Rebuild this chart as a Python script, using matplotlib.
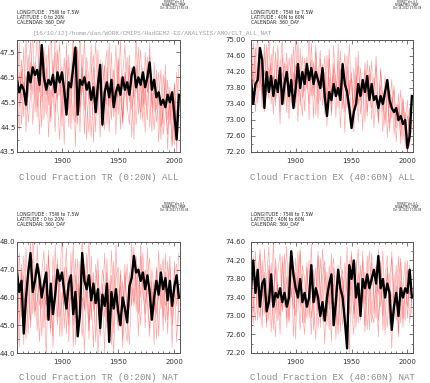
import matplotlib
matplotlib.use("Agg")
import matplotlib.pyplot as plt
import numpy as np
from matplotlib.ticker import MultipleLocator, FormatStrFormatter

# ensemble mean, every 2nd year 1860-2004
tr_all_mean = [
    46.4, 45.9, 46.2, 46.0, 45.4, 46.7, 46.3, 46.9, 46.6, 46.8,
    46.2, 47.8, 46.5, 46.0, 46.4, 46.2, 46.6, 45.9, 46.7, 46.3,
    46.7, 46.0, 45.0, 46.3, 46.1, 46.9, 47.7, 45.0, 46.4, 46.2,
    46.5, 46.0, 46.3, 45.6, 46.1, 45.1, 46.2, 47.0, 44.6, 45.9,
    46.3, 45.7, 46.4, 45.3, 45.9, 46.2, 45.8, 46.5, 46.0, 46.3,
    45.8, 46.6, 46.9, 46.1, 46.5, 46.2, 46.7, 46.1, 46.5, 47.1,
    46.0, 46.4, 45.7, 45.9, 45.4, 45.6, 45.3, 45.8, 45.5, 45.9,
    45.0, 44.0, 45.8,
]
ex_all_mean = [
    74.0, 73.4, 73.9, 74.0, 74.8, 74.5, 73.3, 74.2, 73.7, 74.1,
    73.6, 74.0, 73.7, 74.3, 73.4, 73.9, 74.2, 73.6, 74.0, 73.3,
    73.8, 74.4, 73.8, 74.2, 73.9, 74.4, 74.0, 74.3, 73.9, 74.2,
    74.0, 73.8, 74.3, 73.6, 73.1, 73.7, 73.5, 73.9, 73.6, 73.8,
    73.5, 74.4, 73.9, 73.7, 73.3, 72.8, 73.2, 73.4, 73.9, 73.6,
    74.0, 73.7, 74.1, 73.5, 73.9, 73.5, 73.6, 73.3, 73.6, 73.4,
    73.7, 74.0, 73.5, 73.3, 73.2, 73.3, 73.0, 73.1, 72.9, 73.0,
    72.3, 72.6, 73.6,
]
tr_nat_mean = [
    46.9, 46.2, 46.6, 44.7, 46.0, 46.9, 47.6, 46.2, 46.6, 47.2,
    46.7, 46.0, 46.5, 46.9, 45.2, 46.5, 45.4, 46.1, 47.0, 46.6,
    46.9, 46.2, 45.6, 46.5, 46.8, 45.4, 46.2, 44.6, 45.4, 47.6,
    46.6, 46.3, 46.8, 45.9, 46.5, 45.8, 46.3, 44.9, 46.1, 45.7,
    46.5, 44.4, 46.2, 45.6, 46.3, 45.5, 45.0, 46.0, 45.6, 45.1,
    46.4, 46.7, 47.5, 46.9, 47.0, 46.6, 46.9, 46.3, 46.8, 46.2,
    45.2, 46.0, 46.6, 46.1, 46.9, 46.3, 46.7, 45.9, 46.6, 45.7,
    46.4, 46.8, 46.0,
]
ex_nat_mean = [
    73.6, 74.2, 73.5, 74.0, 73.2, 73.7, 73.8, 73.1, 73.3, 73.9,
    73.2, 73.5, 73.4, 73.6, 73.3, 73.5, 73.2, 73.4, 74.4, 73.9,
    73.6, 73.4, 73.8, 73.3, 73.5, 73.2, 73.4, 74.1, 73.3, 73.6,
    73.4, 73.0, 73.3, 72.9, 73.4, 73.7, 73.9, 72.8, 73.3, 74.0,
    73.6, 73.4, 72.9, 72.3, 74.1, 73.8, 74.2, 73.4, 73.7, 73.0,
    73.8, 73.6, 73.9, 73.6, 73.8, 74.0, 73.7, 74.3, 73.6, 73.8,
    73.4, 73.7, 73.5, 72.7, 73.2, 73.5, 73.0, 73.6, 73.4, 73.6,
    73.5, 74.0, 73.4,
]

# individual members (red)
tr_all_members = [
    [47.5, 45.3, 46.8, 44.9, 48.2, 45.7, 47.1, 44.6, 46.5, 48.4, 45.9, 47.3, 44.8, 46.9, 45.4, 48.6, 46.1, 44.3, 47.6, 45.8, 46.7, 43.8, 47.9, 45.2, 46.4, 48.3, 44.7, 46.2, 45.1, 47.4, 44.2, 46.8, 45.6, 47.8, 43.9, 46.3, 45.0, 47.2, 45.8, 44.4, 46.9, 45.3, 47.5, 44.9, 46.1, 45.7, 48.1, 44.6, 46.6, 45.2, 47.0, 44.1, 46.4, 45.9, 47.7, 44.8, 46.2, 45.4, 47.3, 44.5, 46.0, 45.1, 46.8, 43.9, 45.7, 44.6, 46.5, 43.6, 45.9, 44.8, 46.3, 43.5, 45.4],
    [45.8, 47.9, 44.6, 46.3, 45.2, 47.4, 46.0, 48.5, 45.1, 46.6, 44.2, 47.0, 46.3, 45.0, 47.8, 44.7, 46.2, 47.5, 45.4, 44.0, 46.9, 45.6, 47.2, 44.5, 45.9, 46.8, 43.7, 47.6, 45.3, 46.1, 48.0, 45.5, 44.3, 46.7, 47.4, 45.2, 46.5, 44.1, 47.1, 46.0, 45.4, 47.9, 44.8, 46.4, 45.1, 47.3, 44.4, 46.6, 47.8, 45.3, 44.6, 46.9, 45.7, 48.2, 45.0, 46.3, 44.7, 47.5, 45.9, 46.4, 44.3, 47.1, 45.2, 46.0, 44.0, 46.6, 45.5, 44.2, 46.1, 43.8, 45.6, 44.5, 46.9],
    [46.1, 44.4, 47.2, 45.9, 46.6, 44.7, 45.8, 47.0, 46.3, 44.9, 48.1, 45.5, 46.8, 47.4, 44.1, 46.0, 45.7, 48.7, 45.6, 46.4, 44.9, 47.3, 45.8, 46.9, 44.4, 47.7, 45.5, 44.6, 48.4, 45.9, 46.6, 44.0, 46.3, 45.4, 46.9, 44.3, 47.6, 45.8, 46.2, 47.0, 44.6, 46.1, 45.5, 46.8, 44.2, 47.2, 45.6, 44.9, 46.7, 45.8, 47.4, 45.2, 46.0, 44.6, 46.5, 47.6, 45.3, 46.1, 44.8, 47.9, 45.6, 44.4, 45.8, 46.7, 44.5, 45.2, 47.0, 44.8, 45.5, 43.7, 46.2, 45.0, 44.3],
    [44.9, 46.7, 45.6, 47.7, 44.3, 46.2, 48.0, 45.8, 47.1, 45.3, 46.5, 44.5, 47.7, 45.8, 46.3, 44.9, 47.2, 45.1, 46.6, 47.9, 44.5, 46.1, 45.2, 47.4, 46.0, 44.8, 46.5, 47.7, 44.3, 46.9, 45.2, 47.3, 46.4, 44.1, 46.0, 47.9, 45.6, 46.3, 44.5, 46.8, 47.6, 44.3, 46.2, 45.9, 47.8, 45.0, 46.5, 44.7, 46.1, 47.3, 45.5, 46.6, 44.0, 47.0, 45.7, 45.1, 46.9, 44.3, 46.2, 47.4, 45.3, 46.0, 44.7, 45.5, 46.8, 44.2, 45.0, 46.4, 44.6, 45.9, 43.8, 46.7, 45.2],
]
ex_all_members = [
    [74.62, 73.48, 74.35, 75.10, 73.72, 74.56, 73.21, 74.88, 73.95, 74.42, 73.15, 74.70, 73.66, 74.22, 75.05, 73.40, 74.12, 73.02, 74.64, 73.86, 74.38, 72.95, 74.80, 73.55, 74.28, 73.78, 75.12, 73.60, 74.46, 73.12, 74.02, 74.74, 73.36, 73.98, 72.85, 74.55, 73.70, 74.30, 73.05, 74.90, 73.48, 74.10, 72.68, 74.34, 73.62, 74.05, 73.25, 74.58, 73.40, 73.92, 72.74, 74.44, 73.58, 74.16, 73.02, 73.80, 74.38, 72.90, 73.68, 73.22, 74.10, 72.56, 73.60, 73.04, 73.86, 72.45, 73.38, 72.82, 73.55, 72.30, 73.12, 72.70, 73.42],
    [73.70, 74.40, 73.20, 74.05, 74.70, 73.55, 74.25, 73.85, 75.20, 73.40, 74.10, 73.75, 74.50, 72.90, 74.20, 73.95, 74.68, 73.45, 74.02, 74.82, 73.30, 74.40, 73.65, 73.10, 74.55, 74.05, 73.40, 74.92, 73.80, 74.35, 73.05, 74.52, 73.85, 74.20, 73.45, 74.78, 73.10, 74.12, 73.62, 74.48, 72.80, 73.95, 74.66, 73.30, 74.00, 72.88, 74.30, 73.52, 74.72, 73.15, 73.85, 74.25, 73.20, 73.78, 74.48, 72.80, 73.60, 73.10, 74.22, 73.40, 72.86, 73.70, 73.30, 74.02, 72.62, 73.40, 72.95, 73.75, 72.50, 73.20, 72.10, 73.05, 72.65],
    [74.35, 73.90, 74.82, 73.42, 74.18, 73.66, 74.90, 74.12, 73.52, 74.65, 74.00, 73.35, 74.86, 74.10, 73.60, 74.44, 73.18, 74.55, 74.10, 73.70, 75.02, 73.58, 74.12, 74.60, 73.22, 74.36, 73.92, 74.50, 73.05, 74.70, 73.90, 73.48, 74.40, 73.15, 74.62, 73.88, 73.40, 74.85, 73.70, 73.30, 74.28, 73.82, 73.20, 74.60, 73.66, 74.20, 72.70, 73.90, 74.36, 73.48, 74.02, 72.95, 74.50, 73.55, 73.30, 74.06, 73.66, 72.98, 74.30, 73.50, 73.00, 73.90, 72.70, 73.58, 73.12, 72.80, 73.66, 72.40, 73.32, 72.88, 73.50, 72.34, 73.00],
    [73.55, 74.95, 74.10, 73.80, 74.48, 73.30, 74.70, 73.60, 74.30, 73.95, 74.85, 73.50, 74.06, 73.20, 74.62, 73.75, 74.40, 73.88, 73.40, 74.20, 73.62, 74.96, 73.35, 74.18, 73.72, 74.58, 73.00, 74.30, 73.60, 74.88, 73.40, 74.14, 73.80, 74.60, 73.52, 74.06, 73.20, 74.42, 73.95, 73.60, 74.72, 73.28, 74.02, 73.50, 74.90, 73.70, 73.40, 74.12, 72.95, 74.30, 73.62, 73.95, 73.10, 74.36, 73.70, 73.45, 74.60, 73.25, 73.88, 72.70, 73.68, 73.95, 72.90, 73.40, 73.76, 72.98, 73.20, 72.60, 73.52, 73.00, 72.48, 73.30, 72.85],
]
tr_nat_members = [
    [47.4, 45.1, 46.9, 44.3, 47.8, 46.0, 45.2, 48.3, 46.4, 44.8, 47.1, 45.6, 46.7, 43.8, 47.5, 46.1, 44.6, 47.9, 45.3, 46.6, 48.2, 44.9, 46.3, 45.0, 47.6, 44.2, 46.8, 45.5, 47.3, 45.9, 44.1, 46.5, 48.1, 45.2, 46.9, 44.4, 47.0, 45.8, 46.2, 44.0, 47.4, 45.5, 46.8, 44.7, 47.9, 45.9, 46.4, 44.5, 47.2, 45.3, 46.0, 48.0, 45.7, 46.9, 44.6, 47.5, 46.2, 45.4, 47.8, 45.6, 46.6, 44.3, 47.1, 45.9, 46.8, 44.8, 47.6, 45.2, 46.4, 44.2, 47.3, 45.7, 46.5],
    [45.6, 47.6, 45.9, 46.8, 44.5, 46.3, 48.1, 45.4, 47.0, 46.1, 44.4, 46.9, 47.7, 45.2, 46.0, 44.7, 46.8, 45.9, 47.4, 44.6, 46.2, 45.7, 47.1, 45.3, 46.4, 47.9, 44.3, 46.5, 45.6, 44.6, 47.2, 46.0, 44.8, 47.5, 45.5, 46.2, 43.9, 45.8, 47.0, 46.4, 45.1, 46.6, 44.3, 47.3, 45.6, 45.0, 46.8, 44.2, 46.1, 47.2, 45.6, 46.7, 47.8, 45.5, 47.1, 46.0, 47.6, 45.8, 46.3, 44.6, 47.0, 46.2, 45.4, 47.7, 45.6, 46.3, 45.1, 47.3, 46.0, 45.3, 46.9, 47.2, 45.1],
    [46.3, 44.2, 47.2, 45.8, 46.1, 47.3, 44.9, 46.6, 45.3, 47.9, 45.7, 46.4, 44.9, 47.2, 45.9, 46.5, 44.2, 46.4, 47.2, 45.3, 45.8, 47.1, 44.7, 46.8, 45.9, 46.2, 47.4, 44.8, 46.3, 48.2, 45.5, 46.8, 45.1, 46.0, 44.2, 47.2, 46.1, 44.6, 45.9, 47.6, 44.9, 46.3, 45.6, 44.0, 46.7, 47.1, 45.2, 46.6, 45.0, 44.4, 46.9, 45.7, 47.3, 46.6, 45.4, 47.9, 46.5, 47.0, 45.7, 44.9, 46.3, 45.5, 47.0, 44.6, 46.6, 47.4, 45.7, 46.0, 47.5, 45.0, 45.8, 46.2, 47.6],
    [44.8, 46.5, 45.3, 47.5, 46.2, 44.7, 46.9, 47.4, 45.5, 45.9, 46.8, 44.6, 46.1, 45.7, 47.7, 44.9, 47.5, 46.2, 45.0, 46.8, 44.6, 46.5, 47.8, 44.4, 46.7, 45.0, 46.1, 47.4, 45.2, 46.0, 45.6, 47.6, 44.5, 46.8, 45.7, 46.4, 47.4, 44.7, 46.5, 45.3, 46.9, 44.6, 47.7, 45.9, 46.2, 44.8, 47.0, 45.6, 46.9, 45.4, 44.3, 46.4, 45.8, 47.5, 46.4, 45.0, 46.9, 44.9, 46.9, 47.4, 45.3, 46.6, 44.5, 46.4, 47.2, 45.3, 46.9, 44.7, 47.1, 45.6, 46.6, 44.4, 46.1],
]
ex_nat_members = [
    [74.20, 73.10, 73.85, 72.90, 74.45, 73.40, 73.95, 72.75, 74.10, 73.30, 74.60, 73.05, 73.70, 72.60, 74.30, 73.55, 72.95, 74.15, 73.40, 73.80, 72.50, 74.40, 73.20, 73.90, 72.85, 74.05, 73.35, 74.55, 72.70, 73.65, 73.10, 74.25, 73.50, 72.40, 73.95, 73.15, 74.35, 72.80, 73.60, 74.10, 72.65, 73.85, 73.30, 74.50, 72.20, 73.75, 73.05, 74.20, 73.45, 72.90, 74.40, 73.25, 73.85, 72.70, 74.15, 73.50, 72.95, 74.45, 73.20, 73.70, 72.60, 74.05, 73.40, 72.30, 73.90, 73.15, 74.30, 72.85, 73.60, 74.20, 72.95, 73.80, 73.30],
    [72.95, 74.30, 73.55, 74.00, 73.20, 72.75, 74.45, 73.60, 72.90, 74.15, 73.35, 72.55, 73.95, 74.35, 73.10, 73.70, 74.50, 72.85, 73.60, 73.15, 74.25, 73.50, 72.70, 74.10, 73.80, 72.95, 73.45, 72.60, 74.00, 73.30, 74.40, 72.75, 73.85, 74.20, 73.00, 73.55, 72.45, 74.05, 73.30, 72.80, 74.30, 73.50, 72.95, 73.80, 74.20, 73.15, 72.60, 73.95, 74.45, 73.10, 73.60, 72.80, 74.30, 73.40, 72.85, 73.75, 74.10, 72.90, 73.55, 74.40, 73.20, 72.75, 73.85, 74.25, 73.05, 73.65, 72.55, 74.15, 73.35, 72.90, 74.00, 73.45, 73.80],
    [73.60, 72.80, 74.40, 73.35, 72.95, 74.20, 73.05, 73.80, 74.50, 72.65, 73.55, 74.05, 72.90, 73.50, 73.10, 74.35, 72.75, 73.65, 74.10, 72.55, 73.95, 73.30, 74.45, 72.85, 73.40, 74.15, 72.95, 73.75, 73.20, 72.50, 74.30, 73.60, 72.90, 74.05, 73.45, 72.70, 73.90, 74.25, 73.15, 72.60, 73.70, 74.00, 73.00, 72.40, 73.80, 74.40, 72.95, 73.50, 72.85, 74.10, 73.30, 73.95, 72.70, 73.60, 74.35, 73.05, 73.70, 72.55, 74.15, 73.00, 73.85, 74.30, 72.80, 73.50, 73.20, 74.10, 72.65, 73.75, 72.95, 73.55, 74.20, 72.85, 73.40],
    [74.05, 73.45, 72.90, 73.95, 74.35, 73.00, 73.60, 72.85, 74.00, 73.75, 72.70, 74.25, 73.40, 73.00, 74.15, 73.20, 73.85, 72.90, 74.30, 73.55, 73.00, 73.85, 74.40, 73.10, 72.60, 73.70, 74.20, 72.95, 73.55, 74.05, 72.75, 73.35, 74.45, 73.60, 72.80, 74.10, 73.25, 73.70, 72.50, 74.00, 73.40, 72.80, 74.15, 73.55, 73.05, 74.30, 73.70, 72.75, 73.95, 73.40, 74.20, 72.65, 73.80, 74.40, 73.05, 72.85, 73.90, 73.45, 74.20, 72.70, 73.55, 73.90, 72.95, 74.40, 73.35, 72.90, 73.80, 74.25, 72.75, 73.60, 73.20, 74.10, 73.05],
]

titles = [
    "Cloud Fraction TR (0:20N) ALL",
    "Cloud Fraction EX (40:60N) ALL",
    "Cloud Fraction TR (0:20N) NAT",
    "Cloud Fraction EX (40:60N) NAT",
]
latitudes = ["0 to 20N", "40N to 60N", "0 to 20N", "40N to 60N"]
y_ranges = [(43.5, 48.0), (72.2, 75.0), (44.0, 48.0), (72.2, 74.6)]
y_steps = [(1.0, 0.5, "%.1f"), (0.4, 0.2, "%.2f"),
           (1.0, 0.5, "%.1f"), (0.4, 0.2, "%.2f")]
path_label = "[16/10/12]/home/dan/WORK/CMIP5/HadGEM2-ES/ANALYSIS/AMO/CLT_ALL_NAT"

W, H = 430, 383


def px_axes(fig, left, top, right, bottom):
    return fig.add_axes([left / W, 1 - bottom / H,
                         (right - left) / W, (bottom - top) / H])


def draw_panel(fig, box, mean, members, title, lat, yr, ys, label_pad):
    left, top, right, bottom = box
    ax = px_axes(fig, left, top, right, bottom)

    for m in members:
        ax.plot(np.linspace(1860, 2004, len(m)), m,
                color="#ff2020", lw=0.45, alpha=0.42)
    ax.plot(np.linspace(1860, 2004, len(mean)), mean,
            color="black", lw=1.7)

    ax.set_xlim(1860, 2005)
    ax.set_ylim(*yr)
    ax.set_xticks([1900, 1950, 2000])
    ax.xaxis.set_minor_locator(MultipleLocator(5))
    major, minor, fmt = ys
    ax.yaxis.set_major_locator(MultipleLocator(major))
    ax.yaxis.set_minor_locator(MultipleLocator(minor))
    ax.yaxis.set_major_formatter(FormatStrFormatter(fmt))
    if yr[0] % major:
        ax.set_yticks(np.arange(yr[0], yr[1] + 0.01, major))

    ax.tick_params(which="both", direction="in", top=True, right=True,
                   width=0.5, colors="#444444", labelsize=5.0,
                   labelcolor="#333333")
    ax.tick_params(which="major", length=3)
    ax.tick_params(which="minor", length=1.5)
    ax.tick_params(axis="x", pad=4)
    ax.tick_params(axis="y", pad=label_pad)
    for s in ax.spines.values():
        s.set_linewidth(0.7)
        s.set_color("#555555")

    cx = (left + right) / 2
    fig.text(cx / W, 1 - (bottom + 25) / H, title, ha="center", va="center",
             family="Liberation Mono", fontsize=6.6, color="#8c8c8c")

    hdr = ["LONGITUDE : 75W to 7.5W", "LATITUDE : " + lat, "CALENDAR: 360_DAY"]
    for i, line in enumerate(hdr):
        fig.text(left / W, 1 - (top - 27 + 4.6 * i) / H, line,
                 ha="left", va="center", fontsize=3.3, color="#222222")
    ferret = ["FERRET Ver. 6.1", "NOAA/PMEL TMAP", "Oct 16 2012 17:55:08"]
    for i, line in enumerate(ferret):
        fig.text((right - 6) / W, 1 - (top - 38 + 2.9 * i) / H, line,
                 ha="center", va="center", fontsize=1.9, color="#222222")
    return ax


def main():
    fig = plt.figure(figsize=(W / 100, H / 100), dpi=100)

    boxes = [(17, 40, 180, 152), (251, 40, 413, 152),
             (17, 242, 180, 353), (251, 242, 413, 353)]
    means = [tr_all_mean, ex_all_mean, tr_nat_mean, ex_nat_mean]
    members = [tr_all_members, ex_all_members, tr_nat_members, ex_nat_members]
    pads = [1.0, 4.0, 1.0, 4.0]

    for i in range(4):
        draw_panel(fig, boxes[i], means[i], members[i], titles[i],
                   latitudes[i], y_ranges[i], y_steps[i], pads[i])

    fig.text(33 / W, 1 - 33 / H, path_label, ha="left", va="center",
             family="Liberation Mono", fontsize=4.4, color="#a0a0a0")

    fig.savefig("out.png", dpi=100)


if __name__ == "__main__":
    main()
